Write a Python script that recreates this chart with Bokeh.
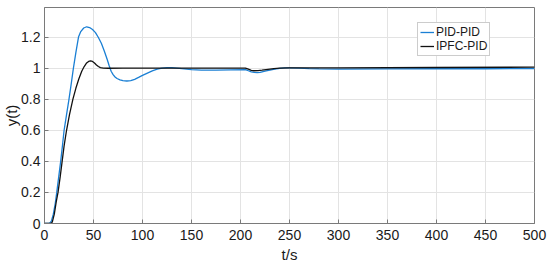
from bokeh.plotting import figure
from bokeh.models import Range1d, SingleIntervalTicker, Legend, LegendItem
from bokeh.embed import file_html
from bokeh.resources import INLINE

# PID-PID response
t_pid = [0, 5, 7, 9, 11, 12.5, 14.5, 16.5, 18.3, 20, 22.5, 25, 27.3, 29.5, 32, 34.7, 37, 40, 43,
         46, 49, 52, 55, 58, 61, 64, 66, 68, 70, 72, 74, 77, 80, 84, 88, 92, 96, 100, 105, 110, 115,
         120, 125, 130, 135, 140, 150, 160, 175, 190, 205, 208, 211, 214, 217, 220, 225, 230,
         235, 240, 245, 250, 260, 270, 280, 300, 350, 400, 450, 500]
y_pid = [0, 0, 0.015, 0.06, 0.13, 0.2, 0.3, 0.4, 0.5, 0.6, 0.7, 0.8, 0.9, 1.0, 1.1, 1.2, 1.235,
         1.258, 1.266, 1.261, 1.248, 1.228, 1.197, 1.16, 1.11, 1.055, 1.015, 0.98, 0.958, 0.943,
         0.933, 0.924, 0.919, 0.917, 0.92, 0.928, 0.94, 0.953, 0.968, 0.982, 0.993, 1.0, 1.003,
         1.003, 1.0, 0.996, 0.99, 0.987, 0.987, 0.989, 0.99, 0.983, 0.976, 0.972, 0.971, 0.973,
         0.98, 0.987, 0.993, 0.998, 1.001, 1.002, 1.0, 0.997, 0.995, 0.994, 0.995, 0.996, 0.996,
         0.997]

# IPFC-PID response
t_ipfc = [0, 6.8, 8, 10, 12, 13.8, 16, 18, 20, 22.5, 25.5, 29, 32, 35, 38, 40.5, 43, 45, 47,
          49, 51, 53, 55, 57, 60, 65, 80, 120, 160, 205, 208, 211, 214, 218, 222, 228, 234,
          240, 250, 300, 400, 500]
y_ipfc = [0, 0, 0.01, 0.06, 0.14, 0.2, 0.3, 0.4, 0.5, 0.6, 0.7, 0.8, 0.87, 0.93, 0.98, 1.01,
          1.033, 1.043, 1.046, 1.043, 1.033, 1.02, 1.01, 1.003, 1.0, 0.999, 1.0, 1.0, 1.0, 1.0,
          0.993, 0.986, 0.983, 0.984, 0.987, 0.992, 0.997, 1.0, 1.001, 1.002, 1.004, 1.006]

series_names = ["PID-PID", "IPFC-PID"]
series_colors = ["#1a7fd4", "#111111"]

FONT = "Liberation Sans"

p = figure(width=550, height=267, output_backend="svg", toolbar_location=None,
           x_range=Range1d(0, 500), y_range=Range1d(0, 1.39),
           min_border_top=7, min_border_right=16, min_border_left=0, min_border_bottom=44)

l1 = p.line(t_pid, y_pid, line_color=series_colors[0], line_width=1.3)
l2 = p.line(t_ipfc, y_ipfc, line_color=series_colors[1], line_width=1.3)

p.xaxis.ticker = SingleIntervalTicker(interval=50)
p.yaxis.ticker = SingleIntervalTicker(interval=0.2)
p.yaxis.major_label_overrides = {0: "0", 1: "1"}

for ax in (p.xaxis[0], p.yaxis[0]):
    ax.axis_line_color = "#7a7a7a"
    ax.major_tick_line_color = "#7a7a7a"
    ax.major_tick_in = 4
    ax.major_tick_out = 0
    ax.minor_tick_line_color = None
    ax.major_label_text_font = FONT
    ax.major_label_text_font_size = "14px"
    ax.major_label_text_color = "#1a1a1a"
    ax.axis_label_text_font = FONT
    ax.axis_label_text_font_size = "15px"
    ax.axis_label_text_font_style = "normal"
    ax.axis_label_text_color = "#1a1a1a"

p.xaxis.axis_label = "t/s"
p.yaxis.axis_label = "y(t)"
p.xaxis.major_label_standoff = 2
p.xaxis.axis_label_standoff = 3
p.yaxis.major_label_standoff = 0
p.yaxis.axis_label_standoff = -2

p.xgrid.ticker = SingleIntervalTicker(interval=50)
p.ygrid.ticker = SingleIntervalTicker(interval=0.2)
p.grid.grid_line_color = "#e3e3e3"
p.grid.grid_line_width = 1
p.outline_line_color = "#7a7a7a"

legend = Legend(items=[LegendItem(label=series_names[0], renderers=[l1]),
                       LegendItem(label=series_names[1], renderers=[l2])],
                location=(373, 167), margin=0, padding=2, spacing=0,
                glyph_width=14, glyph_height=14, label_height=14, label_standoff=2,
                label_text_font=FONT, label_text_font_size="12px",
                label_text_color="#1a1a1a",
                border_line_color="#9a9a9a", border_line_width=1,
                background_fill_color="white", background_fill_alpha=1)
p.add_layout(legend)

open("out.html", "w").write(file_html(p, INLINE))
